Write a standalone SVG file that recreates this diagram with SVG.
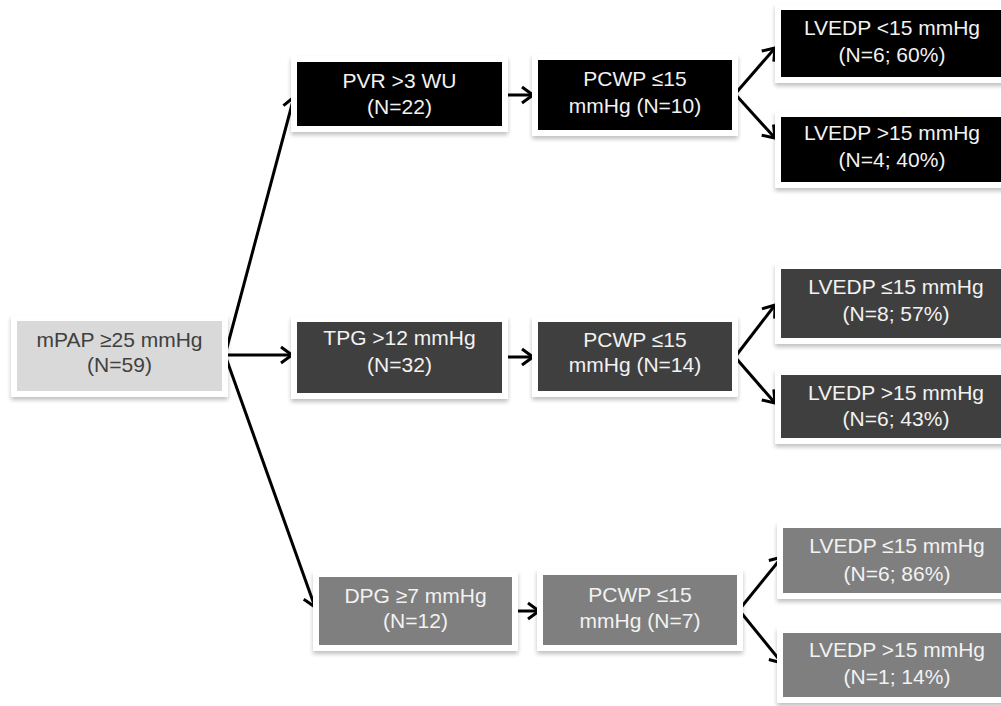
<svg xmlns="http://www.w3.org/2000/svg" width="1001" height="706" viewBox="0 0 1001 706">
<style>
.frame{fill:#ffffff;filter:url(#sh)}
.t{font-family:"Liberation Sans",Arial,sans-serif;font-size:21px;text-anchor:middle}
.lt{fill:#f2f2f2}
.dk{fill:#404040}
.c0{fill:#000000}
.c1{fill:#3f3f3f}
.c2{fill:#7f7f7f}
.c3{fill:#d9d9d9}
.arr{stroke:#000;stroke-width:3;fill:none;marker-end:url(#ah)}
</style>
<defs>
<filter id="sh" x="-10%" y="-20%" width="120%" height="150%">
<feGaussianBlur in="SourceAlpha" stdDeviation="2"/>
<feOffset dx="0" dy="3" result="b"/>
<feComponentTransfer><feFuncA type="linear" slope="0.25"/></feComponentTransfer>
<feMerge><feMergeNode/><feMergeNode in="SourceGraphic"/></feMerge>
</filter>
<marker id="ah" markerUnits="userSpaceOnUse" markerWidth="30" markerHeight="30" viewBox="-15 -15 30 30" refX="0" refY="0" orient="auto">
<path d="M-11,-8 L0,0 L-11,8" stroke="#000" stroke-width="3" fill="none" stroke-linejoin="miter"/>
</marker>
</defs>
<rect width="1001" height="706" fill="#ffffff"/>

<g id="connectors">
<line class="arr" x1="225" y1="355" x2="294" y2="97"/>
<line class="arr" x1="225" y1="355" x2="292" y2="355"/>
<line class="arr" x1="225" y1="355" x2="315" y2="607"/>
<line class="arr" x1="505" y1="95" x2="533" y2="95"/>
<line class="arr" x1="735" y1="94" x2="775" y2="48"/>
<line class="arr" x1="735" y1="94" x2="775" y2="138"/>
<line class="arr" x1="505" y1="357" x2="533" y2="357"/>
<line class="arr" x1="735" y1="357" x2="775" y2="305"/>
<line class="arr" x1="735" y1="357" x2="775" y2="403"/>
<line class="arr" x1="515" y1="611" x2="539" y2="611"/>
<line class="arr" x1="739" y1="610" x2="782" y2="557"/>
<line class="arr" x1="739" y1="610" x2="782" y2="663"/>
</g>

<g id="root">
<rect class="frame" x="11" y="315" width="217" height="82"/>
<rect class="c3" x="17" y="321" width="205" height="70"/>
<text class="t dk" x="119.5" y="347">mPAP ≥25 mmHg</text>
<text class="t dk" x="119.5" y="372">(N=59)</text>
</g>

<g id="pvr">
<rect class="frame" x="291" y="56" width="217" height="76"/>
<rect class="c0" x="297" y="62" width="205" height="64"/>
<text class="t lt" x="399.5" y="88">PVR &gt;3 WU</text>
<text class="t lt" x="399.5" y="114">(N=22)</text>
</g>

<g id="pcwp1">
<rect class="frame" x="532" y="54" width="206" height="82"/>
<rect class="c0" x="538" y="60" width="194" height="70"/>
<text class="t lt" x="635" y="86">PCWP ≤15</text>
<text class="t lt" x="635" y="113">mmHg (N=10)</text>
</g>

<g id="lv1">
<rect class="frame" x="775" y="4" width="250" height="79"/>
<rect class="c0" x="781" y="10" width="240" height="67"/>
<text class="t lt" x="892" y="35">LVEDP &lt;15 mmHg</text>
<text class="t lt" x="892" y="62">(N=6; 60%)</text>
</g>

<g id="lv2">
<rect class="frame" x="775" y="111" width="250" height="77"/>
<rect class="c0" x="781" y="117" width="240" height="65"/>
<text class="t lt" x="892" y="140">LVEDP &gt;15 mmHg</text>
<text class="t lt" x="892" y="167">(N=4; 40%)</text>
</g>

<g id="tpg">
<rect class="frame" x="291" y="316" width="217" height="83"/>
<rect class="c1" x="297" y="322" width="205" height="71"/>
<text class="t lt" x="399.5" y="345">TPG &gt;12 mmHg</text>
<text class="t lt" x="399.5" y="372">(N=32)</text>
</g>

<g id="pcwp2">
<rect class="frame" x="532" y="316" width="206" height="81"/>
<rect class="c1" x="538" y="322" width="194" height="69"/>
<text class="t lt" x="635" y="347">PCWP ≤15</text>
<text class="t lt" x="635" y="372">mmHg (N=14)</text>
</g>

<g id="lv3">
<rect class="frame" x="775" y="263" width="250" height="81"/>
<rect class="c1" x="781" y="269" width="240" height="69"/>
<text class="t lt" x="896" y="294">LVEDP ≤15 mmHg</text>
<text class="t lt" x="896" y="321">(N=8; 57%)</text>
</g>

<g id="lv4">
<rect class="frame" x="775" y="369" width="250" height="75"/>
<rect class="c1" x="781" y="375" width="240" height="63"/>
<text class="t lt" x="896" y="400">LVEDP &gt;15 mmHg</text>
<text class="t lt" x="896" y="426">(N=6; 43%)</text>
</g>

<g id="dpg">
<rect class="frame" x="313" y="571" width="205" height="80"/>
<rect class="c2" x="319" y="577" width="193" height="68"/>
<text class="t lt" x="415.5" y="603">DPG ≥7 mmHg</text>
<text class="t lt" x="415.5" y="628">(N=12)</text>
</g>

<g id="pcwp3">
<rect class="frame" x="537" y="569" width="206" height="82"/>
<rect class="c2" x="543" y="575" width="194" height="70"/>
<text class="t lt" x="640" y="602">PCWP ≤15</text>
<text class="t lt" x="640" y="628">mmHg (N=7)</text>
</g>

<g id="lv5">
<rect class="frame" x="777" y="522" width="250" height="77"/>
<rect class="c2" x="783" y="528" width="240" height="65"/>
<text class="t lt" x="897" y="553">LVEDP ≤15 mmHg</text>
<text class="t lt" x="897" y="581">(N=6; 86%)</text>
</g>

<g id="lv6">
<rect class="frame" x="777" y="627" width="250" height="76"/>
<rect class="c2" x="783" y="633" width="240" height="64"/>
<text class="t lt" x="897" y="657">LVEDP &gt;15 mmHg</text>
<text class="t lt" x="897" y="684">(N=1; 14%)</text>
</g>
</svg>
